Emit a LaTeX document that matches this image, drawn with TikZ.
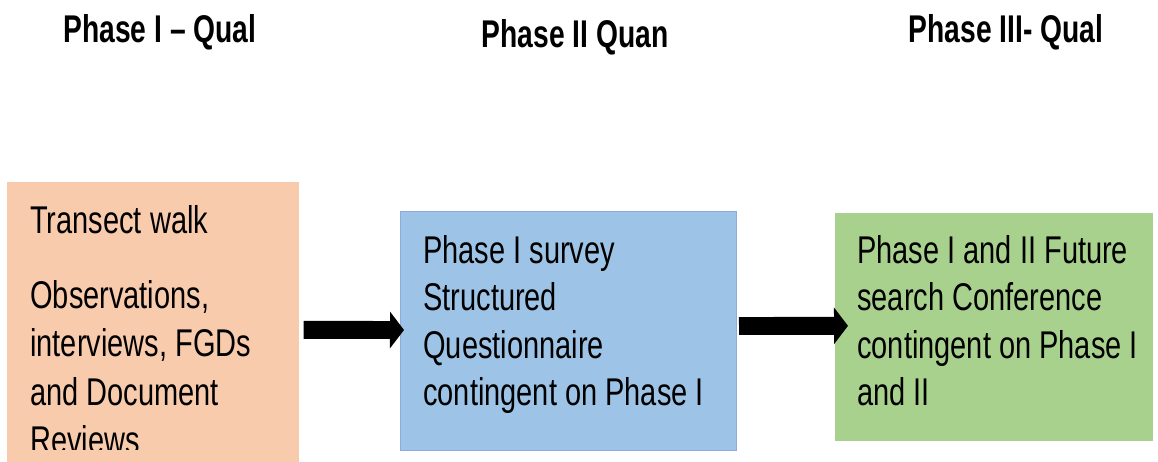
\documentclass[tikz,border=0pt]{standalone}
\usepackage{fontspec}
\usepackage{xcolor}
\usepackage{tikz}
\usetikzlibrary{
  arrows.meta,
  positioning,
  calc
}
\newfontfamily\bodyfont[FakeStretch=0.75, Ligatures=TeX]{Liberation Sans}
\newfontfamily\headfont[FakeStretch=0.73, Ligatures=TeX]{Liberation Sans}
\definecolor{PeachOrange}{HTML}{F8CBAD}
\definecolor{SkyBlue}{HTML}{9DC3E6}
\definecolor{SkyBlueEdge}{HTML}{8FAADC}
\definecolor{LeafGreen}{HTML}{A9D18E}
\tikzset{
    phasebox/.style={rectangle, inner sep=0pt, anchor=north west},
    phasetitle/.style={anchor=base, inner sep=0pt, font=\headfont\bfseries\fontsize{22}{26}\selectfont},
    bodytext/.style={anchor=north west, inner sep=0pt, align=left, font=\bodyfont\fontsize{22}{27}\selectfont},
    bigarrow/.style={line width=10.2pt, -{Triangle[length=0.28cm, width=0.72cm]}}
}

\begin{document}
\begin{tikzpicture}[x=0.02cm, y=-0.02cm]
            \clip (0,0) rectangle (1158,461);
            \node[phasetitle] (qualOne) at (160,42) {Phase I \textendash{} Qual};
            \node[phasetitle] (quanTwo) at (575,47) {Phase II Quan};
            \node[phasetitle] (qualThree) at (1006,42) {Phase III- Qual};

            \node[phasebox, fill=PeachOrange, minimum width=5.84cm, minimum height=5.96cm] (p1) at (7,182) {};
            \node[phasebox, fill=SkyBlue, draw=SkyBlueEdge, line width=0.6pt, minimum width=6.72cm, minimum height=4.78cm] (p2) at (400,211) {};
            \node[phasebox, fill=LeafGreen, minimum width=6.36cm, minimum height=4.56cm] (p3) at (835,213) {};

            \begin{scope}
                \clip (0,0) rectangle (1158,449);
                \node[bodytext, font=\bodyfont\fontsize{22}{27.4}\selectfont] (p1text) at (30,205) {Transect walk\\[15.5pt]
                    Observations,\\ interviews, FGDs\\ and Document\\ Reviews};
            \end{scope}
            \node[bodytext] (p2text) at (423,235) {Phase I survey\\ Structured\\
                Questionnaire\\ contingent on Phase I};
            \node[bodytext] (p3text) at (857,235) {Phase I and II Future\\
                search Conference\\ contingent on Phase I\\ and II};

            \draw[bigarrow] ($(p1.east)+(4,-1.5)$) -- ($(p2.west)+(4,-1)$);
            \draw[bigarrow] ($(p2.east)+(2,-5)$) -- ($(p3.west)+(13,-1.5)$);
        \end{tikzpicture}
\end{document}
